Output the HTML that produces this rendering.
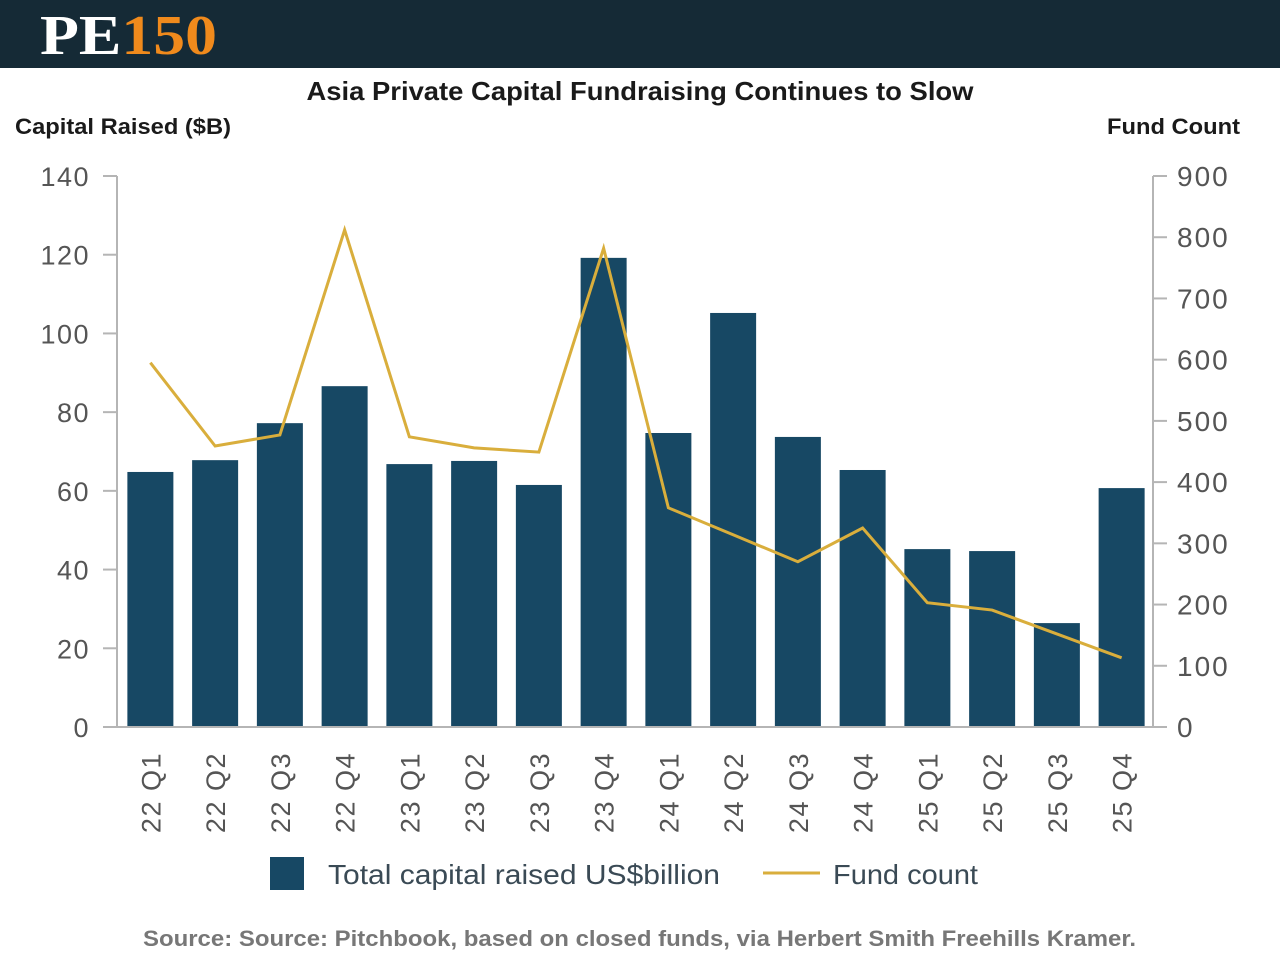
<!DOCTYPE html>
<html><head><meta charset="utf-8"><style>
html,body{margin:0;padding:0;background:#fff;width:1280px;height:960px;overflow:hidden;font-family:"Liberation Sans","DejaVu Sans",sans-serif}
</style></head><body>
<svg width="1280" height="960" xmlns="http://www.w3.org/2000/svg">
<rect x="0" y="0" width="1280" height="68" fill="#152a36"/>
<text x="40" y="54" font-family="Liberation Serif,serif" font-weight="bold" font-size="56" fill="#fff" textLength="177" lengthAdjust="spacingAndGlyphs">PE<tspan fill="#f08a1c">150</tspan></text>
<text x="640" y="100" text-anchor="middle" font-weight="bold" font-size="26" fill="#1a1a1a" textLength="667" lengthAdjust="spacingAndGlyphs">Asia Private Capital Fundraising Continues to Slow</text>
<text x="15" y="134" font-weight="bold" font-size="22" fill="#1a1a1a" textLength="216" lengthAdjust="spacingAndGlyphs">Capital Raised ($B)</text>
<text x="1240" y="134" text-anchor="end" font-weight="bold" font-size="22" fill="#1a1a1a" textLength="133" lengthAdjust="spacingAndGlyphs">Fund Count</text>
<g id="plot"></g>
<rect x="270" y="857" width="34" height="33" fill="#174864"/>
<text x="328" y="884" font-size="28" fill="#3a4a55" textLength="392" lengthAdjust="spacingAndGlyphs">Total capital raised US$billion</text>
<line x1="763" y1="873" x2="820" y2="873" stroke="#d9ae3c" stroke-width="3"/>
<text x="833" y="884" font-size="28" fill="#3a4a55" textLength="145" lengthAdjust="spacingAndGlyphs">Fund count</text>
<text x="143" y="946" font-weight="bold" font-size="22" fill="#777" textLength="993" lengthAdjust="spacingAndGlyphs">Source: Source: Pitchbook, based on closed funds, via Herbert Smith Freehills Kramer.</text>
</svg>
<script>
const categories=["22 Q1","22 Q2","22 Q3","22 Q4","23 Q1","23 Q2","23 Q3","23 Q4","24 Q1","24 Q2","24 Q3","24 Q4","25 Q1","25 Q2","25 Q3","25 Q4"];
const capital=[64.8,67.8,77.2,86.6,66.8,67.6,61.5,119.2,74.7,105.2,73.7,65.3,45.2,44.7,26.4,60.7];
const fundCount=[595,459,477,812,474,456,449,782,358,314,270,325,203,191,152,113];
const leftTicks=[0,20,40,60,80,100,120,140];
const rightTicks=[0,100,200,300,400,500,600,700,800,900];
const NS="http://www.w3.org/2000/svg";
const g=document.getElementById('plot');
const X0=117,X1=1153,Y0=727,Y1=176;
const yL=v=>Y0-(v/140)*(Y0-Y1);
const yR=v=>Y0-(v/900)*(Y0-Y1);
const step=(X1-X0)/categories.length;
const xC=i=>X0+step*(i+0.5)+1;
function mk(t,a){const e=document.createElementNS(NS,t);for(const k in a)e.setAttribute(k,a[k]);g.appendChild(e);return e;}
capital.forEach((v,i)=>{
 const r=mk('rect',{x:xC(i)-23,y:yL(v),width:46,height:Y0-yL(v),fill:'#174864'});
 
 
});
let ax=mk('path',{d:`M${X0},${Y1}V${Y0}H${X1}V${Y1}`,fill:'none',stroke:'#b5b5b5','stroke-width':2});


leftTicks.forEach(v=>{
 mk('line',{x1:X0-14,x2:X0,y1:yL(v),y2:yL(v),stroke:'#b5b5b5','stroke-width':2});
 const t=mk('text',{x:90,y:yL(v)+10,'text-anchor':'end','font-size':27,'letter-spacing':1.5,fill:'#555'});t.textContent=v;
 
 
});
rightTicks.forEach(v=>{
 mk('line',{x1:X1,x2:X1+14,y1:yR(v),y2:yR(v),stroke:'#b5b5b5','stroke-width':2});
 const t=mk('text',{x:1177,y:yR(v)+10,'font-size':28,'letter-spacing':2,fill:'#555'});t.textContent=v;
 
 
});
categories.forEach((c,i)=>{
 const t=mk('text',{x:0,y:0,'text-anchor':'end','font-size':27,'letter-spacing':1.5,fill:'#555',transform:`translate(${xC(i)+10},752) rotate(-90)`});
 t.textContent=c;
 
 
});
const l=mk('polyline',{points:fundCount.map((v,i)=>xC(i)+','+yR(v)).join(' '),fill:'none',stroke:'#d9ae3c','stroke-width':3});


</script>
</body></html>
